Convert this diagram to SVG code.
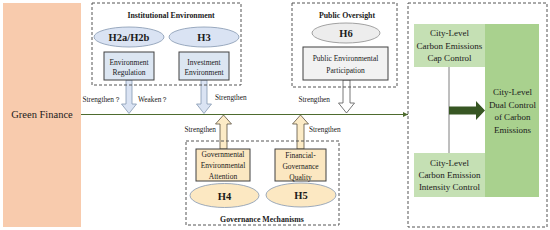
<svg xmlns="http://www.w3.org/2000/svg" width="550" height="230" viewBox="0 0 550 230" font-family="'Liberation Serif', 'Times New Roman', serif">
<style>
text{font-family:'Liberation Serif','Times New Roman',serif;fill:#1a1a1a;text-anchor:middle}
.dash{fill:none;stroke:#555;stroke-width:1;stroke-dasharray:3,2}
.title{font-weight:bold;font-size:7.8px}
.h{font-weight:bold;font-size:10.5px}
.sm{font-size:7.5px}
.lab{font-size:7.3px}
.big{font-size:9px}
.bell{fill:#DAE3F3;stroke:#8497B0;stroke-width:0.8}
.bbox{fill:#DCE6F2;stroke:#404040;stroke-width:1}
.yell{fill:#FCE8C2;stroke:#8497B0;stroke-width:0.8}
.ybox{fill:#FBE7C1;stroke:#404040;stroke-width:1}
.barrow{fill:#DAE3F3;stroke:#8497B0;stroke-width:0.8}
.yarrow{fill:#FCEBC6;stroke:#5a5040;stroke-width:0.8}
</style>
<defs>
<marker id="ah" markerWidth="6" markerHeight="6" refX="5" refY="3" orient="auto" markerUnits="userSpaceOnUse">
<path d="M0,0.5 L5,3 L0,5.5 Z" fill="#4E6B2E"/>
</marker>
</defs>

<g id="green-finance">
<rect x="3" y="3" width="78" height="224" fill="#F8CBAD"/>
<text x="42" y="118" style="font-size:10.5px">Green Finance</text>
</g>

<g id="connectors">
<line x1="81" y1="114.5" x2="408" y2="114.5" stroke="#4E6B2E" stroke-width="1" marker-end="url(#ah)"/>
<path class="barrow" d="M126,80 L132,80 L132,104 L136.5,104 L129,113.5 L121.5,104 L126,104 Z"/>
<path class="barrow" d="M201,80 L207,80 L207,104 L211.5,104 L204,113.5 L196.5,104 L201,104 Z"/>
<path class="yarrow" d="M220,149 L227,149 L227,124 L231.5,124 L223.5,115 L215.5,124 L220,124 Z"/>
<path class="yarrow" d="M297,149 L304,149 L304,124 L308.5,124 L300.5,115 L292.5,124 L297,124 Z"/>
<path d="M343,80 L350,80 L350,103 L354.5,103 L346.5,113 L338.5,103 L343,103 Z" fill="#fff" stroke="#555" stroke-width="0.8"/>
<line x1="449" y1="67" x2="449" y2="153" stroke="#7f7f7f" stroke-width="1"/>
<path d="M449,106.5 L476,106.5 L476,101 L485,110.5 L476,120 L476,114.5 L449,114.5 Z" fill="#375623"/>
<text class="lab" x="121" y="101.5" style="text-anchor:end">Strengthen？</text>
<text class="lab" x="138" y="101.5" style="text-anchor:start">Weaken？</text>
<text class="lab" x="215" y="99.5" style="text-anchor:start">Strengthen</text>
<text class="lab" x="216" y="131.5" style="text-anchor:end">Strengthen</text>
<text class="lab" x="309" y="131.5" style="text-anchor:start">Strengthen</text>
<text class="lab" x="330" y="101.5" style="text-anchor:end">Strengthen</text>
</g>

<g id="institutional-environment">
<rect class="dash" x="92" y="3" width="149" height="82"/>
<text class="title" x="171" y="17.5">Institutional Environment</text>
</g>
<g id="h2">
<ellipse class="bell" cx="129" cy="37" rx="35" ry="10"/>
<text class="h" x="129" y="41">H2a/H2b</text>
</g>
<g id="h3">
<ellipse class="bell" cx="204" cy="37" rx="35" ry="10"/>
<text class="h" x="204" y="41">H3</text>
</g>
<g id="environment-regulation">
<rect class="bbox" x="104" y="52" width="50" height="28"/>
<text class="sm" x="129" y="64.5">Environment</text>
<text class="sm" x="129" y="74.5">Regulation</text>
</g>
<g id="investment-environment">
<rect class="bbox" x="179" y="52" width="50" height="28"/>
<text class="sm" x="204" y="64.5">Investment</text>
<text class="sm" x="204" y="74.5">Environment</text>
</g>

<g id="public-oversight">
<rect class="dash" x="292" y="3" width="105" height="84"/>
<text class="title" x="347" y="17.5">Public Oversight</text>
</g>
<g id="h6">
<ellipse class="bell" cx="346" cy="33" rx="34" ry="10" style="fill:#EDEDED;stroke:#8c8c8c"/>
<text class="h" x="346" y="37">H6</text>
</g>
<g id="public-participation">
<rect x="303" y="47" width="85" height="33" fill="#F2F2F2" stroke="#404040" stroke-width="1"/>
<text class="sm" x="345.5" y="61">Public Environmental</text>
<text class="sm" x="345.5" y="72.5">Participation</text>
</g>

<g id="governance-mechanisms">
<rect class="dash" x="186" y="141" width="153" height="84"/>
<text class="title" x="262" y="221.5">Governance Mechanisms</text>
</g>
<g id="governmental-attention">
<rect class="ybox" x="196" y="149" width="54" height="32"/>
<text class="sm" x="223" y="156.5">Governmental</text>
<text class="sm" x="223" y="167.5">Environmental</text>
<text class="sm" x="223" y="178.5">Attention</text>
</g>
<g id="h4">
<ellipse class="yell" cx="224.5" cy="195.5" rx="34.5" ry="12"/>
<text class="h" x="224.5" y="199.5">H4</text>
</g>
<g id="financial-governance">
<rect class="ybox" x="275" y="149" width="51" height="32"/>
<text class="sm" x="300.5" y="157.5">Financial-</text>
<text class="sm" x="300.5" y="168.5">Governance</text>
<text class="sm" x="300.5" y="179.5">Quality</text>
</g>
<g id="h5">
<ellipse class="yell" cx="301" cy="195" rx="35" ry="12"/>
<text class="h" x="301" y="199">H5</text>
</g>

<g id="dual-control-group">
<rect class="dash" x="408" y="3" width="139" height="224"/>
</g>
<g id="cap-control">
<rect x="414" y="24" width="71" height="43" fill="#C5E0B4"/>
<text class="big" x="449.5" y="36">City-Level</text>
<text class="big" x="449.5" y="48.5">Carbon Emissions</text>
<text class="big" x="449.5" y="61">Cap Control</text>
</g>
<g id="intensity-control">
<rect x="414" y="153" width="71" height="44" fill="#C5E0B4"/>
<text class="big" x="449.5" y="166">City-Level</text>
<text class="big" x="449.5" y="178">Carbon Emission</text>
<text class="big" x="449.5" y="190">Intensity Control</text>
</g>
<g id="dual-control">
<rect x="485" y="24" width="54" height="173" fill="#A9D18E"/>
<text class="big" x="512.5" y="95">City-Level</text>
<text class="big" x="512.5" y="107.5">Dual Control</text>
<text class="big" x="512.5" y="120">of Carbon</text>
<text class="big" x="512.5" y="132.5">Emissions</text>
</g>
</svg>
